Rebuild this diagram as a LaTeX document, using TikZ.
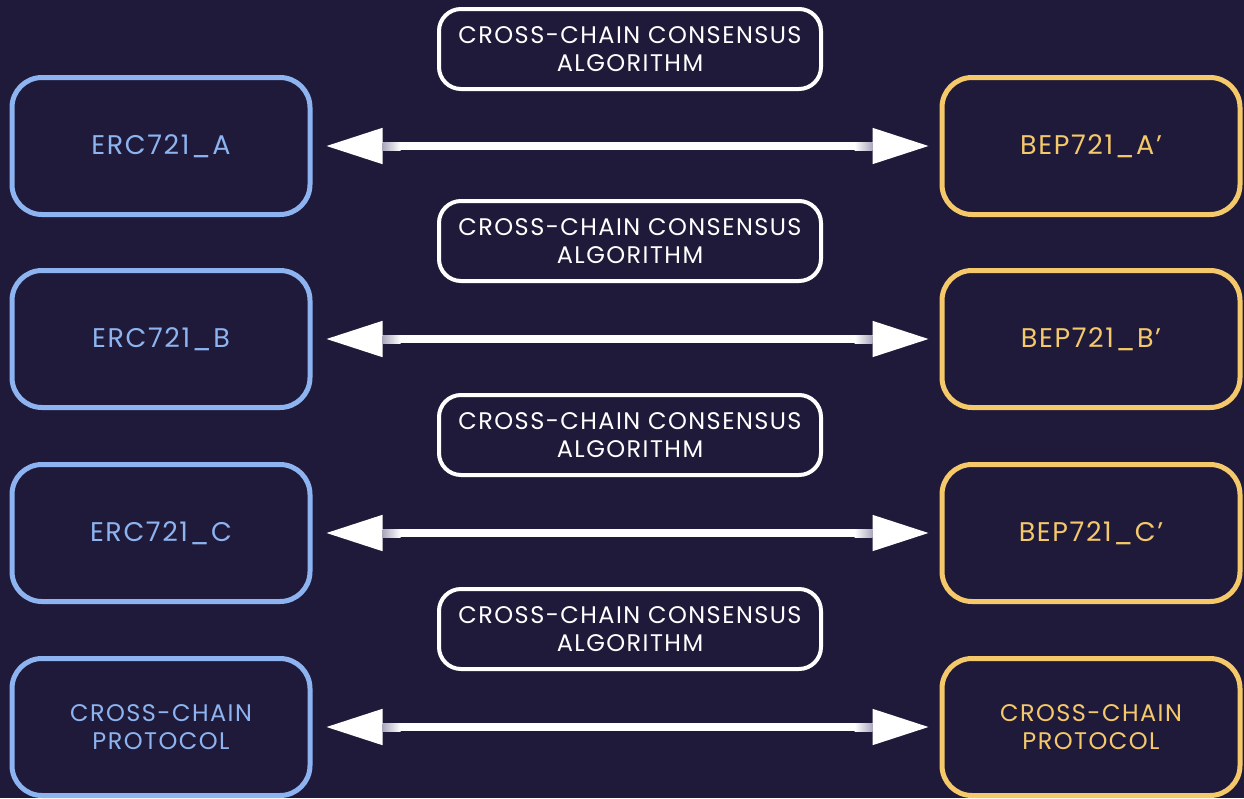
\documentclass[tikz,border=0pt]{standalone}
\usepackage{fontspec}
\setmainfont{Poppins}[LetterSpace=6]
\usetikzlibrary{arrows.meta,calc}
\definecolor{bgnavy}{HTML}{1F1A3A}
\definecolor{chainblue}{HTML}{8DB4F0}
\definecolor{chaingold}{HTML}{F5C96A}
\definecolor{fadegray}{HTML}{A9A7BC}
\tikzset{
  chainbox/.style={draw, line width=5pt, rounded corners=30pt, fill=bgnavy,
    minimum width=298pt, minimum height=137pt, align=center,
    font=\fontsize{27}{30}\selectfont},
  ethbox/.style={chainbox, draw=chainblue, text=chainblue},
  bscbox/.style={chainbox, draw=chaingold, text=chaingold},
  twoline/.style={font=\fontsize{24}{28}\selectfont},
  algobox/.style={draw=white, line width=4pt, rounded corners=22pt, fill=bgnavy,
    minimum width=382pt, minimum height=80pt, align=center, text=white,
    font=\fontsize{24}{28}\selectfont},
  bridge/.style={draw=white, line width=8pt,
    {Triangle[length=57pt,width=34pt]}-{Triangle[length=57pt,width=34pt]},
    shorten <=13pt, shorten >=10pt}
}
\begin{document}
\begin{tikzpicture}[x=1pt, y=-1pt]
  \fill[bgnavy] (0,0) rectangle (1244,798);
  \useasboundingbox (0,0) rectangle (1244,798);

  % left (Ethereum) side
  \node[ethbox] (l1) at (161,146) {ERC721\_A};
  \node[ethbox] (l2) at (161,339) {ERC721\_B};
  \node[ethbox] (l3) at (161,533) {ERC721\_C};
  \node[ethbox, twoline] (l4) at (161,727) {CROSS-CHAIN\\PROTOCOL};

  % right (BSC) side
  \node[bscbox] (r1) at (1091,146) {BEP721\_A’};
  \node[bscbox] (r2) at (1091,339) {BEP721\_B’};
  \node[bscbox] (r3) at (1091,533) {BEP721\_C’};
  \node[bscbox, twoline] (r4) at (1091,727) {CROSS-CHAIN\\PROTOCOL};

  % consensus labels
  \node[algobox] (m1) at (630,49) {CROSS-CHAIN CONSENSUS\\ALGORITHM};
  \node[algobox] (m2) at (630,241) {CROSS-CHAIN CONSENSUS\\ALGORITHM};
  \node[algobox] (m3) at (630,435) {CROSS-CHAIN CONSENSUS\\ALGORITHM};
  \node[algobox] (m4) at (630,629) {CROSS-CHAIN CONSENSUS\\ALGORITHM};

  % bridges, with the shaft fading out next to each head
  \foreach \i in {1,...,4} {
    \draw[bridge] (l\i.east) -- (r\i.west);
    \shade[left color=fadegray, right color=white]
      ($(l\i.east)+(70,-4)$) rectangle ($(l\i.east)+(88,4)$);
    \shade[left color=white, right color=fadegray]
      ($(r\i.west)+(-85,-4)$) rectangle ($(r\i.west)+(-67,4)$);
  }
\end{tikzpicture}
\end{document}
